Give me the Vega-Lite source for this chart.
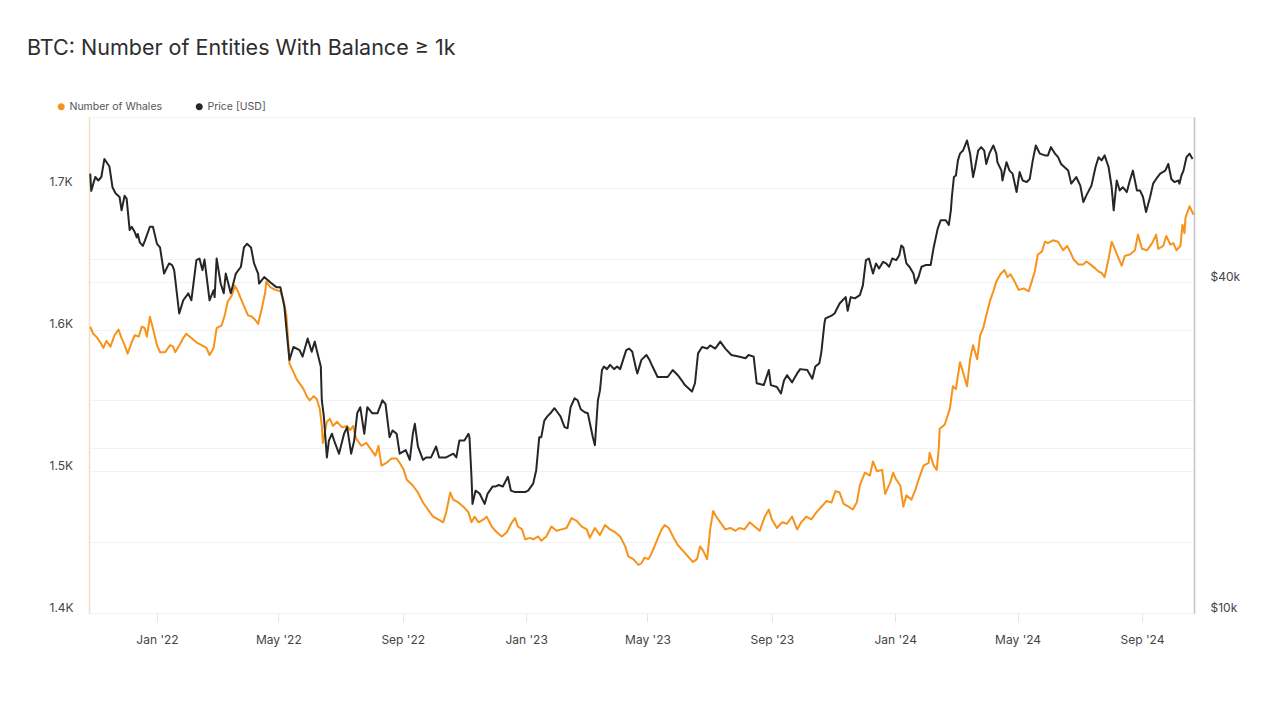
{
"$schema": "https://vega.github.io/schema/vega-lite/v6.json",
"width": 1105, "height": 496,
"autosize": {"type": "none"},
"padding": {"left": 89, "top": 117, "right": 86, "bottom": 107},
"background": "white",
"title": {"text": "BTC: Number of Entities With Balance ≥ 1k", "anchor": "start", "frame": "group", "dx": -62, "offset": 42, "font": "Inter", "fontSize": 21.5, "fontWeight": 400, "color": "#2e2e2e"},
"config": {
  "font": "Inter",
  "view": {"stroke": "#ececec"},
  "axis": {"labelFont": "Inter", "labelFontSize": 12, "labelColor": "#444"},
  "legend": {"labelFont": "Inter"}
},
"datasets": {
"whales": [
{"date":"2021-10-27","whales":1602},{"date":"2021-10-30","whales":1597},{"date":"2021-11-02","whales":1595},{"date":"2021-11-06","whales":1591},{"date":"2021-11-09","whales":1587},{"date":"2021-11-12","whales":1592},{"date":"2021-11-16","whales":1588},{"date":"2021-11-20","whales":1596},{"date":"2021-11-24","whales":1600},{"date":"2021-11-27","whales":1594},{"date":"2021-11-30","whales":1589},{"date":"2021-12-03","whales":1583},{"date":"2021-12-07","whales":1591},{"date":"2021-12-10","whales":1596},{"date":"2021-12-14","whales":1595},{"date":"2021-12-17","whales":1602},{"date":"2021-12-20","whales":1601},{"date":"2021-12-22","whales":1595},{"date":"2021-12-25","whales":1609},{"date":"2021-12-28","whales":1601},
{"date":"2022-01-01","whales":1589},{"date":"2022-01-04","whales":1584},{"date":"2022-01-09","whales":1584},{"date":"2022-01-14","whales":1589},{"date":"2022-01-17","whales":1588},{"date":"2022-01-19","whales":1584},{"date":"2022-01-24","whales":1590},{"date":"2022-01-27","whales":1594},{"date":"2022-01-30","whales":1597},{"date":"2022-02-04","whales":1594},{"date":"2022-02-09","whales":1591},{"date":"2022-02-14","whales":1589},{"date":"2022-02-19","whales":1587},{"date":"2022-02-22","whales":1582},{"date":"2022-02-26","whales":1587},{"date":"2022-03-01","whales":1601},{"date":"2022-03-06","whales":1603},{"date":"2022-03-09","whales":1610},{"date":"2022-03-12","whales":1620},{"date":"2022-03-16","whales":1624},{"date":"2022-03-19","whales":1631},{"date":"2022-03-22","whales":1627},{"date":"2022-03-26","whales":1620},{"date":"2022-03-29","whales":1615},{"date":"2022-04-01","whales":1610},{"date":"2022-04-05","whales":1609},{"date":"2022-04-08","whales":1607},{"date":"2022-04-11","whales":1604},{"date":"2022-04-15","whales":1616},{"date":"2022-04-18","whales":1626},{"date":"2022-04-19","whales":1634},{"date":"2022-04-23","whales":1630},{"date":"2022-04-28","whales":1628},{"date":"2022-05-03","whales":1627},{"date":"2022-05-06","whales":1621},{"date":"2022-05-09","whales":1610},{"date":"2022-05-11","whales":1589},{"date":"2022-05-12","whales":1576},{"date":"2022-05-16","whales":1570},{"date":"2022-05-19","whales":1565},{"date":"2022-05-22","whales":1562},{"date":"2022-05-26","whales":1558},{"date":"2022-05-29","whales":1553},{"date":"2022-06-01","whales":1550},{"date":"2022-06-05","whales":1553},{"date":"2022-06-08","whales":1551},{"date":"2022-06-11","whales":1544},{"date":"2022-06-13","whales":1532},{"date":"2022-06-14","whales":1520},{"date":"2022-06-18","whales":1535},{"date":"2022-06-21","whales":1537},{"date":"2022-06-24","whales":1532},{"date":"2022-06-28","whales":1535},{"date":"2022-07-03","whales":1531},{"date":"2022-07-08","whales":1532},{"date":"2022-07-11","whales":1529},{"date":"2022-07-14","whales":1532},{"date":"2022-07-17","whales":1523},{"date":"2022-07-22","whales":1518},{"date":"2022-07-27","whales":1520},{"date":"2022-07-31","whales":1516},{"date":"2022-08-05","whales":1511},{"date":"2022-08-08","whales":1518},{"date":"2022-08-11","whales":1504},{"date":"2022-08-16","whales":1506},{"date":"2022-08-21","whales":1509},{"date":"2022-08-26","whales":1509},{"date":"2022-08-29","whales":1506},{"date":"2022-09-02","whales":1501},{"date":"2022-09-05","whales":1494},{"date":"2022-09-11","whales":1490},{"date":"2022-09-16","whales":1485},{"date":"2022-09-21","whales":1478},{"date":"2022-09-26","whales":1473},{"date":"2022-10-01","whales":1468},{"date":"2022-10-06","whales":1466},{"date":"2022-10-11","whales":1464},{"date":"2022-10-14","whales":1471},{"date":"2022-10-18","whales":1485},{"date":"2022-10-21","whales":1480},{"date":"2022-10-26","whales":1478},{"date":"2022-10-31","whales":1475},{"date":"2022-11-05","whales":1471},{"date":"2022-11-08","whales":1464},{"date":"2022-11-11","whales":1468},{"date":"2022-11-15","whales":1464},{"date":"2022-11-20","whales":1466},{"date":"2022-11-23","whales":1468},{"date":"2022-11-28","whales":1461},{"date":"2022-12-03","whales":1457},{"date":"2022-12-08","whales":1454},{"date":"2022-12-13","whales":1457},{"date":"2022-12-18","whales":1464},{"date":"2022-12-21","whales":1467},{"date":"2022-12-24","whales":1461},{"date":"2022-12-28","whales":1459},{"date":"2022-12-31","whales":1452},
{"date":"2023-01-05","whales":1453},{"date":"2023-01-08","whales":1452},{"date":"2023-01-13","whales":1454},{"date":"2023-01-16","whales":1451},{"date":"2023-01-21","whales":1454},{"date":"2023-01-26","whales":1461},{"date":"2023-01-31","whales":1458},{"date":"2023-02-05","whales":1459},{"date":"2023-02-10","whales":1460},{"date":"2023-02-15","whales":1467},{"date":"2023-02-20","whales":1465},{"date":"2023-02-25","whales":1461},{"date":"2023-03-02","whales":1459},{"date":"2023-03-05","whales":1453},{"date":"2023-03-10","whales":1460},{"date":"2023-03-15","whales":1455},{"date":"2023-03-20","whales":1462},{"date":"2023-03-25","whales":1459},{"date":"2023-03-30","whales":1457},{"date":"2023-04-04","whales":1454},{"date":"2023-04-09","whales":1447},{"date":"2023-04-12","whales":1440},{"date":"2023-04-17","whales":1438},{"date":"2023-04-22","whales":1434},{"date":"2023-04-25","whales":1435},{"date":"2023-04-28","whales":1439},{"date":"2023-05-02","whales":1438},{"date":"2023-05-05","whales":1442},{"date":"2023-05-08","whales":1447},{"date":"2023-05-12","whales":1454},{"date":"2023-05-15","whales":1459},{"date":"2023-05-18","whales":1462},{"date":"2023-05-22","whales":1460},{"date":"2023-05-27","whales":1453},{"date":"2023-05-31","whales":1448},{"date":"2023-06-05","whales":1444},{"date":"2023-06-10","whales":1440},{"date":"2023-06-15","whales":1436},{"date":"2023-06-19","whales":1438},{"date":"2023-06-22","whales":1447},{"date":"2023-06-25","whales":1444},{"date":"2023-06-29","whales":1438},{"date":"2023-07-02","whales":1459},{"date":"2023-07-05","whales":1472},{"date":"2023-07-08","whales":1468},{"date":"2023-07-12","whales":1464},{"date":"2023-07-17","whales":1459},{"date":"2023-07-22","whales":1460},{"date":"2023-07-27","whales":1458},{"date":"2023-07-31","whales":1460},{"date":"2023-08-05","whales":1459},{"date":"2023-08-10","whales":1464},{"date":"2023-08-15","whales":1461},{"date":"2023-08-20","whales":1458},{"date":"2023-08-25","whales":1468},{"date":"2023-08-29","whales":1473},{"date":"2023-09-01","whales":1466},{"date":"2023-09-06","whales":1460},{"date":"2023-09-11","whales":1464},{"date":"2023-09-16","whales":1463},{"date":"2023-09-21","whales":1468},{"date":"2023-09-26","whales":1459},{"date":"2023-09-30","whales":1464},{"date":"2023-10-05","whales":1468},{"date":"2023-10-10","whales":1466},{"date":"2023-10-15","whales":1471},{"date":"2023-10-20","whales":1475},{"date":"2023-10-25","whales":1479},{"date":"2023-10-30","whales":1478},{"date":"2023-11-03","whales":1486},{"date":"2023-11-07","whales":1485},{"date":"2023-11-11","whales":1477},{"date":"2023-11-16","whales":1475},{"date":"2023-11-20","whales":1473},{"date":"2023-11-24","whales":1478},{"date":"2023-11-27","whales":1490},{"date":"2023-12-02","whales":1499},{"date":"2023-12-07","whales":1497},{"date":"2023-12-10","whales":1507},{"date":"2023-12-14","whales":1500},{"date":"2023-12-19","whales":1501},{"date":"2023-12-22","whales":1484},{"date":"2023-12-27","whales":1492},{"date":"2023-12-30","whales":1499},
{"date":"2024-01-02","whales":1494},{"date":"2024-01-06","whales":1490},{"date":"2024-01-09","whales":1475},{"date":"2024-01-12","whales":1483},{"date":"2024-01-17","whales":1480},{"date":"2024-01-21","whales":1487},{"date":"2024-01-24","whales":1494},{"date":"2024-01-29","whales":1504},{"date":"2024-02-03","whales":1506},{"date":"2024-02-04","whales":1513},{"date":"2024-02-08","whales":1504},{"date":"2024-02-11","whales":1501},{"date":"2024-02-13","whales":1516},{"date":"2024-02-14","whales":1530},{"date":"2024-02-19","whales":1533},{"date":"2024-02-24","whales":1544},{"date":"2024-02-27","whales":1560},{"date":"2024-03-01","whales":1558},{"date":"2024-03-05","whales":1577},{"date":"2024-03-08","whales":1570},{"date":"2024-03-12","whales":1560},{"date":"2024-03-15","whales":1579},{"date":"2024-03-18","whales":1589},{"date":"2024-03-22","whales":1579},{"date":"2024-03-25","whales":1596},{"date":"2024-03-28","whales":1601},{"date":"2024-03-31","whales":1610},{"date":"2024-04-04","whales":1621},{"date":"2024-04-07","whales":1627},{"date":"2024-04-10","whales":1634},{"date":"2024-04-14","whales":1639},{"date":"2024-04-18","whales":1642},{"date":"2024-04-21","whales":1637},{"date":"2024-04-24","whales":1639},{"date":"2024-04-28","whales":1634},{"date":"2024-05-02","whales":1628},{"date":"2024-05-07","whales":1629},{"date":"2024-05-12","whales":1627},{"date":"2024-05-15","whales":1634},{"date":"2024-05-18","whales":1641},{"date":"2024-05-21","whales":1653},{"date":"2024-05-25","whales":1655},{"date":"2024-05-28","whales":1662},{"date":"2024-05-31","whales":1661},{"date":"2024-06-05","whales":1663},{"date":"2024-06-10","whales":1662},{"date":"2024-06-15","whales":1656},{"date":"2024-06-19","whales":1659},{"date":"2024-06-22","whales":1655},{"date":"2024-06-25","whales":1650},{"date":"2024-06-30","whales":1646},{"date":"2024-07-05","whales":1646},{"date":"2024-07-08","whales":1648},{"date":"2024-07-12","whales":1646},{"date":"2024-07-17","whales":1643},{"date":"2024-07-20","whales":1641},{"date":"2024-07-23","whales":1640},{"date":"2024-07-26","whales":1637},{"date":"2024-07-30","whales":1650},{"date":"2024-08-02","whales":1662},{"date":"2024-08-05","whales":1657},{"date":"2024-08-09","whales":1650},{"date":"2024-08-12","whales":1645},{"date":"2024-08-15","whales":1652},{"date":"2024-08-20","whales":1653},{"date":"2024-08-25","whales":1656},{"date":"2024-08-28","whales":1667},{"date":"2024-09-01","whales":1657},{"date":"2024-09-06","whales":1656},{"date":"2024-09-11","whales":1661},{"date":"2024-09-15","whales":1667},{"date":"2024-09-17","whales":1657},{"date":"2024-09-22","whales":1659},{"date":"2024-09-25","whales":1666},{"date":"2024-09-29","whales":1660},{"date":"2024-10-02","whales":1661},{"date":"2024-10-05","whales":1656},{"date":"2024-10-09","whales":1659},{"date":"2024-10-11","whales":1674},{"date":"2024-10-13","whales":1668},{"date":"2024-10-14","whales":1679},{"date":"2024-10-18","whales":1687},{"date":"2024-10-22","whales":1681}
],
"price": [
{"date":"2021-10-27","price":63100},{"date":"2021-10-28","price":58700},{"date":"2021-11-01","price":62200},{"date":"2021-11-04","price":61300},{"date":"2021-11-07","price":62200},{"date":"2021-11-10","price":67100},{"date":"2021-11-15","price":65000},{"date":"2021-11-18","price":59600},{"date":"2021-11-21","price":58100},{"date":"2021-11-25","price":57200},{"date":"2021-11-27","price":54100},{"date":"2021-11-30","price":57500},{"date":"2021-12-02","price":56800},{"date":"2021-12-05","price":49800},{"date":"2021-12-07","price":50500},{"date":"2021-12-10","price":49400},{"date":"2021-12-12","price":48300},{"date":"2021-12-13","price":49000},{"date":"2021-12-15","price":47300},{"date":"2021-12-18","price":46600},{"date":"2021-12-20","price":47600},{"date":"2021-12-25","price":50500},{"date":"2021-12-28","price":50500},
{"date":"2022-01-01","price":47000},{"date":"2022-01-04","price":46300},{"date":"2022-01-08","price":41500},{"date":"2022-01-13","price":43300},{"date":"2022-01-16","price":43000},{"date":"2022-01-18","price":42100},{"date":"2022-01-23","price":35100},{"date":"2022-01-27","price":37100},{"date":"2022-02-01","price":38200},{"date":"2022-02-04","price":37100},{"date":"2022-02-09","price":43900},{"date":"2022-02-12","price":44200},{"date":"2022-02-15","price":42100},{"date":"2022-02-17","price":44000},{"date":"2022-02-22","price":37100},{"date":"2022-02-26","price":38700},{"date":"2022-02-27","price":37600},{"date":"2022-03-01","price":44200},{"date":"2022-03-05","price":39800},{"date":"2022-03-08","price":38200},{"date":"2022-03-10","price":41500},{"date":"2022-03-15","price":38200},{"date":"2022-03-20","price":41500},{"date":"2022-03-25","price":42700},{"date":"2022-03-28","price":46300},{"date":"2022-03-31","price":47000},{"date":"2022-04-04","price":46300},{"date":"2022-04-07","price":43300},{"date":"2022-04-11","price":41500},{"date":"2022-04-12","price":39800},{"date":"2022-04-17","price":40900},{"date":"2022-04-23","price":40000},{"date":"2022-04-29","price":39200},{"date":"2022-05-03","price":39200},{"date":"2022-05-07","price":36100},{"date":"2022-05-10","price":31500},{"date":"2022-05-12","price":28900},{"date":"2022-05-16","price":30500},{"date":"2022-05-22","price":30100},{"date":"2022-05-25","price":29300},{"date":"2022-05-30","price":31600},{"date":"2022-06-03","price":29900},{"date":"2022-06-06","price":31200},{"date":"2022-06-08","price":30100},{"date":"2022-06-12","price":28100},{"date":"2022-06-13","price":24400},{"date":"2022-06-15","price":22800},{"date":"2022-06-18","price":19200},{"date":"2022-06-20","price":20600},{"date":"2022-06-23","price":21200},{"date":"2022-06-26","price":20400},{"date":"2022-06-30","price":19500},{"date":"2022-07-05","price":21200},{"date":"2022-07-08","price":21800},{"date":"2022-07-12","price":19500},{"date":"2022-07-15","price":20600},{"date":"2022-07-18","price":23100},{"date":"2022-07-21","price":23700},{"date":"2022-07-25","price":21200},{"date":"2022-07-28","price":23700},{"date":"2022-08-02","price":23100},{"date":"2022-08-07","price":23100},{"date":"2022-08-12","price":24400},{"date":"2022-08-15","price":24000},{"date":"2022-08-19","price":20900},{"date":"2022-08-22","price":21500},{"date":"2022-08-26","price":21200},{"date":"2022-08-29","price":19500},{"date":"2022-09-04","price":19800},{"date":"2022-09-08","price":19000},{"date":"2022-09-11","price":21200},{"date":"2022-09-13","price":22100},{"date":"2022-09-16","price":20100},{"date":"2022-09-21","price":19000},{"date":"2022-09-24","price":19200},{"date":"2022-09-29","price":19200},{"date":"2022-10-04","price":20100},{"date":"2022-10-07","price":19200},{"date":"2022-10-14","price":19200},{"date":"2022-10-21","price":19500},{"date":"2022-10-24","price":19200},{"date":"2022-10-27","price":20600},{"date":"2022-11-01","price":20600},{"date":"2022-11-05","price":21200},{"date":"2022-11-06","price":20900},{"date":"2022-11-08","price":17700},{"date":"2022-11-09","price":15800},{"date":"2022-11-12","price":16700},{"date":"2022-11-16","price":16500},{"date":"2022-11-21","price":15800},{"date":"2022-11-24","price":16500},{"date":"2022-11-29","price":17000},{"date":"2022-12-02","price":17000},{"date":"2022-12-05","price":17100},{"date":"2022-12-09","price":17000},{"date":"2022-12-14","price":17700},{"date":"2022-12-17","price":16700},{"date":"2022-12-21","price":16600},{"date":"2022-12-26","price":16600},{"date":"2022-12-31","price":16600},
{"date":"2023-01-03","price":16700},{"date":"2023-01-08","price":17200},{"date":"2023-01-11","price":18200},{"date":"2023-01-14","price":20900},{"date":"2023-01-16","price":20900},{"date":"2023-01-19","price":22400},{"date":"2023-01-22","price":22800},{"date":"2023-01-25","price":23100},{"date":"2023-01-29","price":23600},{"date":"2023-02-01","price":23200},{"date":"2023-02-04","price":22800},{"date":"2023-02-08","price":21800},{"date":"2023-02-11","price":21700},{"date":"2023-02-14","price":23700},{"date":"2023-02-18","price":24600},{"date":"2023-02-21","price":24400},{"date":"2023-02-24","price":23500},{"date":"2023-02-28","price":23200},{"date":"2023-03-03","price":23100},{"date":"2023-03-08","price":20900},{"date":"2023-03-10","price":20200},{"date":"2023-03-13","price":24400},{"date":"2023-03-15","price":25400},{"date":"2023-03-17","price":27700},{"date":"2023-03-19","price":28100},{"date":"2023-03-22","price":27800},{"date":"2023-03-25","price":28300},{"date":"2023-03-29","price":27800},{"date":"2023-04-01","price":28100},{"date":"2023-04-04","price":27800},{"date":"2023-04-10","price":30100},{"date":"2023-04-13","price":30300},{"date":"2023-04-16","price":29900},{"date":"2023-04-20","price":27700},{"date":"2023-04-21","price":27300},{"date":"2023-04-25","price":28900},{"date":"2023-04-30","price":29500},{"date":"2023-05-03","price":28900},{"date":"2023-05-06","price":28100},{"date":"2023-05-11","price":26900},{"date":"2023-05-16","price":26900},{"date":"2023-05-21","price":26900},{"date":"2023-05-26","price":27700},{"date":"2023-05-31","price":27100},{"date":"2023-06-04","price":26500},{"date":"2023-06-07","price":26000},{"date":"2023-06-14","price":25300},{"date":"2023-06-17","price":26200},{"date":"2023-06-20","price":29700},{"date":"2023-06-24","price":30500},{"date":"2023-06-29","price":30300},{"date":"2023-07-02","price":30700},{"date":"2023-07-07","price":30300},{"date":"2023-07-12","price":31200},{"date":"2023-07-17","price":30300},{"date":"2023-07-23","price":29500},{"date":"2023-07-30","price":29300},{"date":"2023-08-06","price":29100},{"date":"2023-08-09","price":29500},{"date":"2023-08-14","price":29300},{"date":"2023-08-17","price":26200},{"date":"2023-08-24","price":26000},{"date":"2023-08-29","price":27700},{"date":"2023-08-31","price":26000},{"date":"2023-09-06","price":25800},{"date":"2023-09-10","price":25100},{"date":"2023-09-13","price":26500},{"date":"2023-09-16","price":27100},{"date":"2023-09-21","price":26300},{"date":"2023-09-26","price":27300},{"date":"2023-09-29","price":27800},{"date":"2023-10-06","price":27700},{"date":"2023-10-11","price":26700},{"date":"2023-10-14","price":28100},{"date":"2023-10-18","price":28500},{"date":"2023-10-20","price":29900},{"date":"2023-10-23","price":33700},{"date":"2023-10-24","price":34400},{"date":"2023-10-30","price":34800},{"date":"2023-11-02","price":35100},{"date":"2023-11-07","price":36600},{"date":"2023-11-10","price":37100},{"date":"2023-11-13","price":37600},{"date":"2023-11-15","price":35500},{"date":"2023-11-18","price":37600},{"date":"2023-11-22","price":37400},{"date":"2023-11-27","price":37900},{"date":"2023-11-30","price":39500},{"date":"2023-12-03","price":43900},{"date":"2023-12-06","price":44200},{"date":"2023-12-10","price":41500},{"date":"2023-12-13","price":43300},{"date":"2023-12-16","price":42400},{"date":"2023-12-20","price":43600},{"date":"2023-12-23","price":43300},{"date":"2023-12-26","price":42700},{"date":"2023-12-29","price":44200},
{"date":"2024-01-02","price":43900},{"date":"2024-01-05","price":44800},{"date":"2024-01-07","price":46700},{"date":"2024-01-09","price":46300},{"date":"2024-01-12","price":43300},{"date":"2024-01-15","price":42700},{"date":"2024-01-19","price":41500},{"date":"2024-01-21","price":39800},{"date":"2024-01-24","price":40900},{"date":"2024-01-27","price":42700},{"date":"2024-01-31","price":43000},{"date":"2024-02-05","price":43000},{"date":"2024-02-08","price":46300},{"date":"2024-02-12","price":50100},{"date":"2024-02-15","price":51900},{"date":"2024-02-20","price":51900},{"date":"2024-02-23","price":50900},{"date":"2024-02-25","price":54100},{"date":"2024-02-26","price":57200},{"date":"2024-02-28","price":62200},{"date":"2024-03-01","price":62600},{"date":"2024-03-03","price":66700},{"date":"2024-03-05","price":68600},{"date":"2024-03-08","price":69500},{"date":"2024-03-12","price":72500},{"date":"2024-03-15","price":68600},{"date":"2024-03-18","price":62200},{"date":"2024-03-20","price":64800},{"date":"2024-03-23","price":69500},{"date":"2024-03-26","price":70500},{"date":"2024-03-29","price":69500},{"date":"2024-03-31","price":65700},{"date":"2024-04-03","price":68600},{"date":"2024-04-07","price":71000},{"date":"2024-04-10","price":68600},{"date":"2024-04-11","price":66200},{"date":"2024-04-15","price":63900},{"date":"2024-04-16","price":61300},{"date":"2024-04-20","price":66200},{"date":"2024-04-23","price":63900},{"date":"2024-04-26","price":63100},{"date":"2024-04-30","price":58400},{"date":"2024-05-03","price":63500},{"date":"2024-05-06","price":61300},{"date":"2024-05-10","price":60900},{"date":"2024-05-13","price":61700},{"date":"2024-05-16","price":66700},{"date":"2024-05-19","price":71000},{"date":"2024-05-23","price":68600},{"date":"2024-05-28","price":68100},{"date":"2024-05-31","price":68100},{"date":"2024-06-03","price":70500},{"date":"2024-06-07","price":68600},{"date":"2024-06-10","price":67600},{"date":"2024-06-13","price":65700},{"date":"2024-06-20","price":63900},{"date":"2024-06-23","price":60500},{"date":"2024-06-28","price":62200},{"date":"2024-07-02","price":60000},{"date":"2024-07-05","price":56000},{"date":"2024-07-08","price":57600},{"date":"2024-07-13","price":60000},{"date":"2024-07-17","price":64800},{"date":"2024-07-20","price":67600},{"date":"2024-07-23","price":66700},{"date":"2024-07-26","price":68100},{"date":"2024-07-30","price":64800},{"date":"2024-08-02","price":59600},{"date":"2024-08-04","price":54100},{"date":"2024-08-07","price":61300},{"date":"2024-08-10","price":58800},{"date":"2024-08-13","price":59600},{"date":"2024-08-17","price":58400},{"date":"2024-08-20","price":61300},{"date":"2024-08-23","price":63900},{"date":"2024-08-27","price":58800},{"date":"2024-08-30","price":58800},{"date":"2024-09-02","price":57200},{"date":"2024-09-05","price":53700},{"date":"2024-09-09","price":57200},{"date":"2024-09-12","price":60500},{"date":"2024-09-15","price":61700},{"date":"2024-09-19","price":63100},{"date":"2024-09-24","price":63900},{"date":"2024-09-27","price":65700},{"date":"2024-09-30","price":61700},{"date":"2024-10-03","price":60900},{"date":"2024-10-07","price":61300},{"date":"2024-10-08","price":60500},{"date":"2024-10-10","price":62600},{"date":"2024-10-12","price":63900},{"date":"2024-10-15","price":67600},{"date":"2024-10-18","price":68600},{"date":"2024-10-21","price":67100}
]
},
"layer": [
{
  "data": {"name": "whales"},
  "mark": {"type": "line", "strokeWidth": 2, "strokeJoin": "round"},
  "encoding": {
    "x": {"field": "date", "type": "temporal",
      "scale": {"domain": [{"year": 2021, "month": 10, "date": 25, "hours": 19, "utc": true}, {"year": 2024, "month": 10, "date": 22, "hours": 10, "utc": true}]},
      "axis": {"title": null, "format": "%b '%y", "tickCount": {"interval": "month", "step": 4}, "grid": false, "domain": false, "tickSize": 9, "tickColor": "#e6e6e6", "labelPadding": 12, "labelFontSize": 12, "labelColor": "#444"}},
    "y": {"field": "whales", "type": "quantitative",
      "scale": {"domain": [1400, 1750], "nice": false, "zero": false},
      "axis": {"orient": "left", "title": null, "values": [1400, 1450, 1500, 1550, 1600, 1650, 1700, 1750],
        "labelExpr": "datum.value % 100 == 0 ? format(datum.value / 1000, '.1f') + 'K' : ''",
        "grid": true, "gridColor": "#f2f2f2", "ticks": false, "tickSize": 0, "labelAlign": "left", "labelPadding": 40,
        "labelBaseline": "alphabetic", "labelOffset": -2, "labelFontSize": 12, "labelColor": "#444",
        "domainColor": "#f3dfc4", "domainWidth": 1.5}},
    "color": {"datum": "Number of Whales", "type": "nominal",
      "scale": {"domain": ["Number of Whales", "Price [USD]"], "range": ["#F7931A", "#262626"]},
      "legend": {"title": null, "orient": "none", "legendX": -33, "legendY": -16, "direction": "horizontal", "columns": 2,
        "symbolType": "circle", "symbolSize": 12, "symbolStrokeWidth": 3.6, "labelFontSize": 10.5, "labelColor": "#555",
        "columnPadding": 27, "labelOffset": 3, "padding": 0}}
  }
},
{
  "data": {"name": "price"},
  "mark": {"type": "line", "strokeWidth": 2, "strokeJoin": "round"},
  "encoding": {
    "x": {"field": "date", "type": "temporal"},
    "y": {"field": "price", "type": "quantitative",
      "scale": {"type": "log", "domain": [10000, 80000], "nice": false},
      "axis": {"orient": "right", "title": null, "values": [10000, 20000, 40000, 80000],
        "labelExpr": "datum.value == 10000 ? '$10k' : (datum.value == 40000 ? '$40k' : '')",
        "grid": true, "gridColor": "#f2f2f2", "ticks": false, "tickSize": 0, "labelPadding": 16,
        "labelBaseline": "alphabetic", "labelOffset": -2, "labelFontSize": 12, "labelColor": "#444",
        "domainColor": "#c4c4c4", "domainWidth": 1.5}},
    "color": {"datum": "Price [USD]", "type": "nominal"}
  }
}
],
"resolve": {"scale": {"y": "independent"}}
}
